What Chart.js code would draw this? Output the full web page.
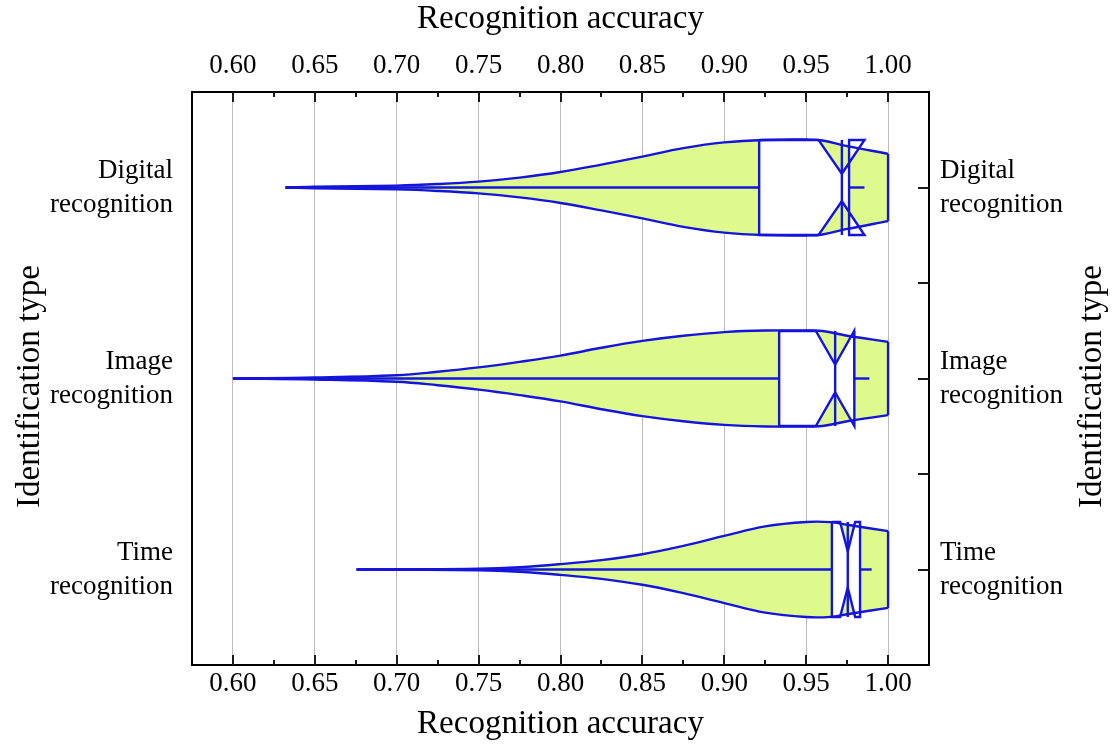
<!DOCTYPE html>
<html>
<head>
<meta charset="utf-8">
<title>Recognition accuracy</title>
<script src="https://cdn.jsdelivr.net/npm/chart.js@4.4.0/dist/chart.umd.min.js"></script>
<style>
    html, body { margin: 0; padding: 0; background: #fff; }
    #wrap { width: 1112px; height: 744px; }
</style>
</head>
<body>
<div id="wrap"><canvas id="violinChart" width="1112" height="744"></canvas></div>
<script>
// -------------------------------
//  DATA
// -------------------------------
const categories = ['Digital recognition', 'Image recognition', 'Time recognition'];
const categoryLines = [['Digital', 'recognition'], ['Image', 'recognition'], ['Time', 'recognition']];
const accuracyTicks = [0.60, 0.65, 0.70, 0.75, 0.80, 0.85, 0.90, 0.95, 1.00];
const accuracyMinorTicks = [0.625, 0.675, 0.725, 0.775, 0.825, 0.875, 0.925, 0.975];

// violin outlines: accuracy and density half-width (in category units)
const digitalAcc     = [0.632, 0.65, 0.70, 0.725, 0.75, 0.775, 0.80, 0.825, 0.85, 0.875, 0.90, 0.925, 0.95, 0.96, 0.975, 1.00];
const digitalDensity = [0, 0.004, 0.010, 0.018, 0.031, 0.052, 0.081, 0.120, 0.162, 0.206, 0.236, 0.249, 0.251, 0.246, 0.217, 0.176];
const imageAcc       = [0.60, 0.65, 0.70, 0.725, 0.75, 0.775, 0.80, 0.825, 0.85, 0.875, 0.90, 0.925, 0.95, 0.96, 0.975, 1.00];
const imageDensity   = [0, 0.005, 0.017, 0.035, 0.058, 0.087, 0.120, 0.161, 0.197, 0.224, 0.243, 0.251, 0.251, 0.249, 0.224, 0.192];
const timeAcc        = [0.6755, 0.70, 0.75, 0.775, 0.80, 0.825, 0.85, 0.875, 0.90, 0.925, 0.95, 0.965, 0.975, 1.00];
const timeDensity    = [0, 0.001, 0.004, 0.012, 0.028, 0.049, 0.080, 0.124, 0.176, 0.226, 0.249, 0.248, 0.234, 0.201];

// notched box statistics, one entry per category
const whiskerLow  = [0.6324, 0.6000, 0.6755];
const q1          = [0.9213, 0.9335, 0.9657];
const notchLow    = [0.9575, 0.9559, 0.9707];
const median      = [0.9718, 0.9677, 0.9754];
const notchHigh   = [0.9856, 0.9793, 0.9799];
const q3          = [0.9762, 0.9795, 0.9829];
const whiskerHigh = [0.9856, 0.9886, 0.9900];

const violinAcc = [digitalAcc, imageAcc, timeAcc];
const violinDensity = [digitalDensity, imageDensity, timeDensity];

// -------------------------------
//  STYLE
// -------------------------------
const SERIF = '"Liberation Serif", "Times New Roman", serif';
const BLUE = '#1414dc';
const VIOLIN_FILL = '#dffa8c';
const GRID = '#bdbdbd';
const BOX_HALF = 0.249;
const NOTCH_HALF = [0.072, 0.073, 0.095];

const LINE = {
    showLine: true,
    borderColor: BLUE,
    borderWidth: 2.4,
    pointRadius: 0,
    tension: 0,
    fill: false
};

function centerOf(i) {
    return categories.length - 0.5 - i;
}

// -------------------------------
//  DATASETS
// -------------------------------
function violinDatasets(i) {
    const c = centerOf(i);
    const acc = violinAcc[i], dens = violinDensity[i];
    const last = acc.length - 1;
    return [
        { ...LINE, data: acc.map((x, k) => ({ x, y: c + dens[k] })), fill: '+1',
          backgroundColor: VIOLIN_FILL, tension: 0.4, order: 3 },
        { ...LINE, data: acc.map((x, k) => ({ x, y: c - dens[k] })), tension: 0.4, order: 3 },
        { ...LINE, data: [{ x: acc[last], y: c - dens[last] }, { x: acc[last], y: c + dens[last] }], order: 3 }
    ];
}

function boxDatasets(i) {
    const c = centerOf(i);
    const top = c + BOX_HALF, bot = c - BOX_HALF;
    const path = [
        { x: q1[i], y: top }, { x: notchLow[i], y: top }, { x: median[i], y: c + NOTCH_HALF[i] },
        { x: notchHigh[i], y: top }, { x: q3[i], y: top }, { x: q3[i], y: bot },
        { x: notchHigh[i], y: bot }, { x: median[i], y: c - NOTCH_HALF[i] }, { x: notchLow[i], y: bot },
        { x: q1[i], y: bot }, { x: q1[i], y: top }
    ];
    return [
        { ...LINE, data: path, fill: 'shape', backgroundColor: '#ffffff', order: 2 },
        { ...LINE, data: [{ x: median[i], y: bot }, { x: median[i], y: top }], order: 1 },
        { ...LINE, data: [{ x: whiskerLow[i], y: c }, { x: q1[i], y: c }], order: 1 },
        { ...LINE, data: [{ x: q3[i], y: c }, { x: whiskerHigh[i], y: c }], order: 1 }
    ];
}

const datasets = [];
categories.forEach((_, i) => {
    datasets.push(...violinDatasets(i));
    datasets.push(...boxDatasets(i));
});

// -------------------------------
//  INSIDE TICKS + Y TITLES
// -------------------------------
const frameExtras = {
    id: 'frameExtras',
    afterDraw(chart) {
        const { ctx, chartArea: a, scales } = chart;
        ctx.save();
        ctx.strokeStyle = '#1a1a1a';
        ctx.lineWidth = 2;
        ctx.beginPath();
        accuracyTicks.forEach(v => {
            const px = Math.round(scales.x.getPixelForValue(v));
            ctx.moveTo(px, a.bottom); ctx.lineTo(px, a.bottom - 10);
            ctx.moveTo(px, a.top); ctx.lineTo(px, a.top + 10);
        });
        accuracyMinorTicks.forEach(v => {
            const px = Math.round(scales.x.getPixelForValue(v));
            ctx.moveTo(px, a.bottom); ctx.lineTo(px, a.bottom - 5);
            ctx.moveTo(px, a.top); ctx.lineTo(px, a.top + 5);
        });
        for (let k = 1; k < categories.length * 2; k++) {
            const py = Math.round(scales.y2.getPixelForValue(k / 2));
            ctx.moveTo(a.right, py); ctx.lineTo(a.right - 11, py);
        }
        ctx.stroke();

        ctx.fillStyle = '#000';
        ctx.font = '33px ' + SERIF;
        ctx.textAlign = 'center';
        ctx.textBaseline = 'middle';
        const midY = (a.top + a.bottom) / 2 + 8;
        [30, 1092].forEach(x => {
            ctx.save();
            ctx.translate(x, midY);
            ctx.rotate(-Math.PI / 2);
            ctx.fillText('Identification type', 0, 0);
            ctx.restore();
        });
        ctx.restore();
    }
};

// -------------------------------
//  SCALES
// -------------------------------
function accuracyAxis(position, size, padding, withGrid) {
    return {
        type: 'linear', axis: 'x', position, min: 0.575, max: 1.025,
        afterBuildTicks: s => { s.ticks = accuracyTicks.map(v => ({ value: v })); },
        afterFit: s => { s.height = size; },
        grid: { display: withGrid, color: GRID, lineWidth: 1, drawTicks: false },
        border: { display: true, color: '#000', width: 2 },
        ticks: { callback: v => Number(v).toFixed(2), font: { family: SERIF, size: 27 },
                 color: '#000', padding, autoSkip: false, maxRotation: 0 },
        title: { display: true, text: 'Recognition accuracy', font: { family: SERIF, size: 33 },
                 color: '#000', padding: 0 }
    };
}

function typeAxis(position, size, padding) {
    return {
        type: 'linear', axis: 'y', position, min: 0, max: categories.length,
        afterBuildTicks: s => { s.ticks = categories.map((_, i) => ({ value: centerOf(i) })); },
        afterFit: s => { s.width = size; },
        grid: { display: false, drawTicks: false },
        border: { display: true, color: '#000', width: 2 },
        ticks: { callback: v => categoryLines[Math.round(categories.length - 0.5 - v)],
                 font: { family: SERIF, size: 27, lineHeight: 1.26 }, color: '#000', padding, autoSkip: false },
        title: { display: false }
    };
}

new Chart(document.getElementById('violinChart').getContext('2d'), {
    type: 'scatter',
    data: { datasets },
    options: {
        responsive: false,
        animation: false,
        layout: { padding: 0 },
        plugins: {
            legend: { display: false },
            tooltip: { enabled: false },
            filler: { drawTime: 'beforeDatasetsDraw' }
        },
        scales: {
            x: accuracyAxis('bottom', 79, 3, true),
            x2: accuracyAxis('top', 92, 10, false),
            y: typeAxis('left', 192, 19),
            y2: typeAxis('right', 183, 11)
        }
    },
    plugins: [frameExtras]
});
</script>
</body>
</html>
